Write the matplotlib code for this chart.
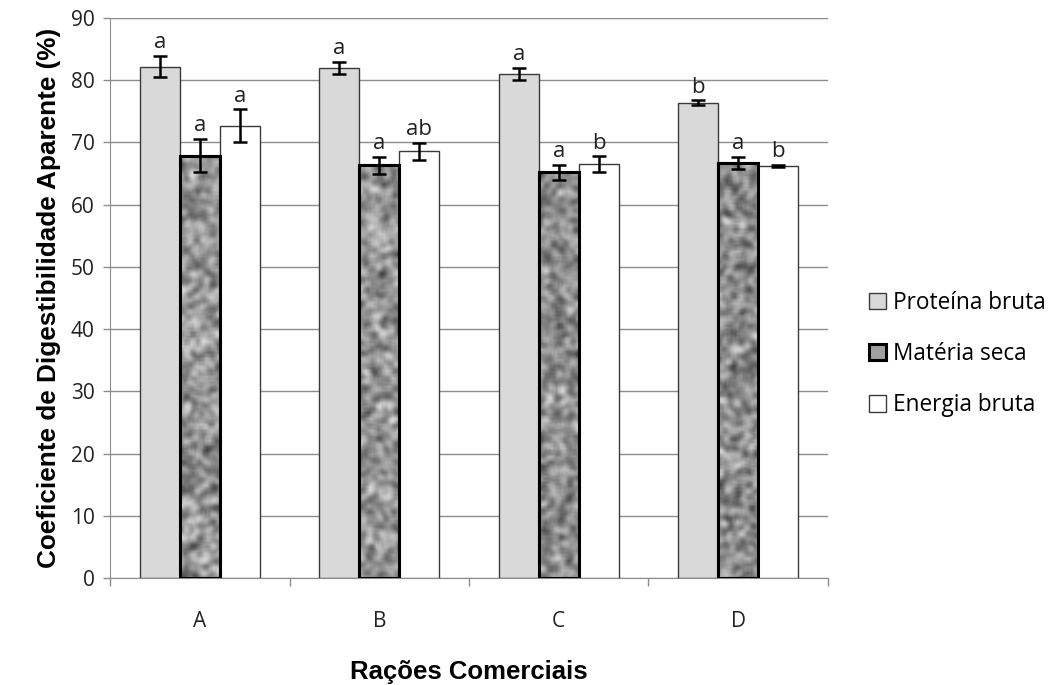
import numpy as np
import matplotlib
matplotlib.use("Agg")
import matplotlib.pyplot as plt
from matplotlib.patches import Rectangle

# -------------------------
# Data
# -------------------------
categories = ["A", "B", "C", "D"]
series = ["Proteína bruta", "Matéria seca", "Energia bruta"]

proteina = [82.2, 82.0, 81.0, 76.4]
materia = [67.9, 66.3, 65.2, 66.7]
energia = [72.7, 68.6, 66.5, 66.2]

err_proteina = [1.7, 1.0, 1.0, 0.35]
err_materia = [2.7, 1.4, 1.2, 1.0]
err_energia = [2.6, 1.35, 1.3, 0.2]

let_proteina = ["a", "a", "a", "b"]
let_materia = ["a", "a", "a", "a"]
let_energia = ["a", "ab", "b", "b"]

values = [proteina, materia, energia]
errors = [err_proteina, err_materia, err_energia]
letters = [let_proteina, let_materia, let_energia]

# -------------------------
# Style
# -------------------------
label_font = "Open Sans"
face = ["#d9d9d9", "#a0a0a0", "#ffffff"]
edge = ["#3a3a3a", "#000000", "#3a3a3a"]
lw = [1.0, 2.2, 1.0]

fig = plt.figure(figsize=(10.55, 6.85), dpi=100)
ax = fig.add_axes([0.1043, 0.1562, 0.6805, 0.8175])

x = np.arange(len(categories))
width = 0.223
offsets = [-width, 0.0, width]

ax.set_xlim(-0.5, len(categories) - 0.5)
ax.set_ylim(0, 90)

# mottled texture (decoration only) for "Matéria seca"
rng = np.random.default_rng(7)


def mottled(h_px, w_px, cell=2):
    nh, nw = max(int(h_px / cell), 4), max(int(w_px / cell), 4)
    t = rng.random((nh + 6, nw + 6))
    for _ in range(2):
        p = np.pad(t, 1, mode="edge")
        t = sum(p[i:i + t.shape[0], j:j + t.shape[1]]
                for i in range(3) for j in range(3)) / 9.0
    t = t[3:-3, 3:-3]
    return (t - t.min()) / (t.max() - t.min())


px_per_unit = 560 / 90.0
for s in range(3):
    bars = ax.bar(x + offsets[s], values[s], width, color=face[s],
                  edgecolor=edge[s], linewidth=lw[s], zorder=3,
                  label=series[s])
    if s == 1:
        for b in bars:
            x0, y0 = b.get_x(), b.get_y()
            tex = mottled(b.get_height() * px_per_unit, 40)
            im = ax.imshow(tex, cmap="gray", vmin=-0.45, vmax=1.25,
                           extent=[x0, x0 + b.get_width(), y0, y0 + b.get_height()],
                           aspect="auto", zorder=3.5, interpolation="bilinear")
            im.set_clip_path(b)
            ax.add_patch(Rectangle((x0, y0), b.get_width(), b.get_height(),
                                   fill=False, edgecolor=edge[s],
                                   linewidth=lw[s], zorder=4))
    ax.errorbar(x + offsets[s], values[s], yerr=errors[s], fmt="none",
                ecolor="black", elinewidth=1.8, capsize=5, capthick=1.8,
                zorder=5)
    for i in range(len(categories)):
        ax.text(x[i] + offsets[s], values[s][i] + errors[s][i] + 0.4,
                letters[s][i], ha="center", va="bottom",
                fontsize=16, family=label_font, color="#222222", zorder=6)

ax.set_yticks(np.arange(0, 91, 10))
ax.yaxis.grid(True, color="#8c8c8c", linewidth=1.0, zorder=0)
ax.set_axisbelow(True)

ax.set_xticks(x)
ax.set_xticklabels(categories, family=label_font, fontsize=15)
ax.set_xticks(np.arange(-0.5, len(categories)), minor=True)
ax.tick_params(axis="x", which="major", length=0, pad=24)
ax.tick_params(axis="x", which="minor", length=6, color="#8c8c8c", width=1)
ax.tick_params(axis="y", length=5, color="#8c8c8c", width=1, labelsize=15,
               pad=6, labelcolor="#222222")
for t in ax.get_yticklabels():
    t.set_family(label_font)
for t in ax.get_xticklabels():
    t.set_color("#222222")

for side in ["top", "right"]:
    ax.spines[side].set_visible(False)
ax.spines["left"].set_color("#8c8c8c")
ax.spines["bottom"].set_color("#8c8c8c")

ax.set_ylabel("Coeficiente de Digestibilidade Aparente (%)",
              family="Liberation Sans", fontweight="bold", fontsize=18.8,
              labelpad=7)
ax.set_xlabel("Rações Comerciais", family="Liberation Sans",
              fontweight="bold", fontsize=18.5, labelpad=20)

leg = fig.legend(loc="center left", bbox_to_anchor=(869 / 1055, 1 - 354 / 685),
                 frameon=False, prop={"family": label_font, "size": 16.3},
                 handlelength=0.75, handleheight=0.75, handletextpad=0.3,
                 labelspacing=1.2, borderaxespad=0, borderpad=0)

fig.savefig("out.png", dpi=100)
